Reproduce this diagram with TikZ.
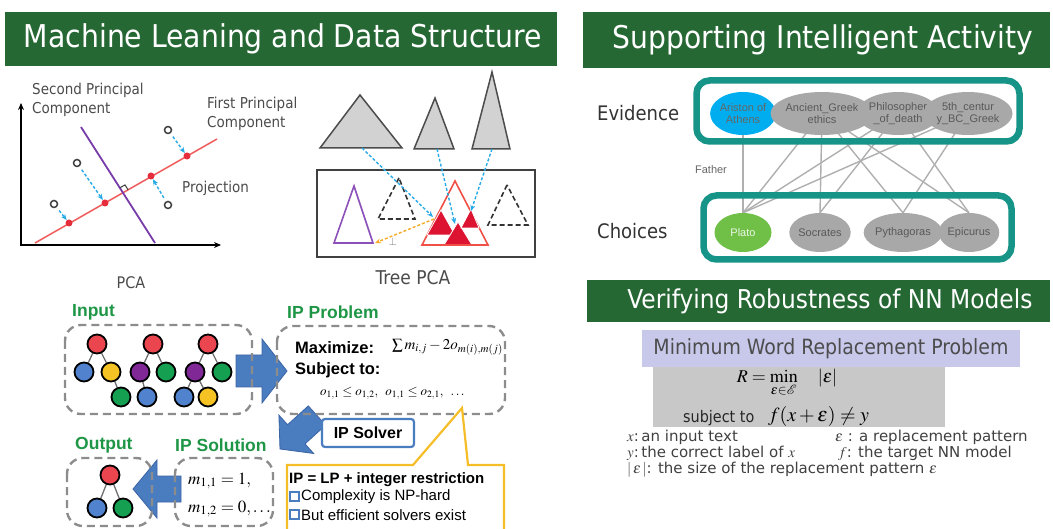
\documentclass[tikz,border=0pt]{standalone}
\usepackage{mathptmx}
\usepackage[no-math]{fontspec}
\setmainfont{Liberation Sans}
\newfontfamily\tah{DejaVu Sans Condensed}
\newfontfamily\verd{DejaVu Sans}
\usepackage{graphicx}
\usetikzlibrary{arrows.meta,shapes.geometric,calc,backgrounds}

\definecolor{titlegreen}{RGB}{38,104,52}
\definecolor{lblgreen}{RGB}{30,150,70}
\definecolor{txtgray}{RGB}{75,75,75}
\definecolor{pcared}{RGB}{240,90,90}
\definecolor{pcapurple}{RGB}{120,60,170}
\definecolor{projblue}{RGB}{40,170,230}
\definecolor{dotred}{RGB}{230,45,60}
\definecolor{trigray}{RGB}{210,210,210}
\definecolor{trivio}{RGB}{140,80,185}
\definecolor{trired}{RGB}{240,80,70}
\definecolor{trifill}{RGB}{220,20,50}
\definecolor{orangearr}{RGB}{245,170,40}
\definecolor{dashgray}{RGB}{140,140,140}
\definecolor{nred}{RGB}{235,70,80}
\definecolor{nblue}{RGB}{80,130,205}
\definecolor{nyellow}{RGB}{245,195,35}
\definecolor{ngreen}{RGB}{20,160,80}
\definecolor{npurple}{RGB}{128,40,150}
\definecolor{treeedge}{RGB}{110,110,110}
\definecolor{arrblue}{RGB}{74,124,192}
\definecolor{arrblueedge}{RGB}{60,100,165}
\definecolor{calloutgold}{RGB}{245,190,40}
\definecolor{teal}{RGB}{22,148,136}
\definecolor{evcyan}{RGB}{0,174,239}
\definecolor{chgreen}{RGB}{112,192,72}
\definecolor{nodegray}{RGB}{168,168,168}
\definecolor{linkgray}{RGB}{175,175,175}
\definecolor{lavender}{RGB}{200,200,235}
\definecolor{boxgray}{RGB}{200,200,200}

\newcommand{\fz}[2]{\fontsize{#1}{#2}\selectfont}

\begin{document}
\begin{tikzpicture}[x=1pt,y=-1pt,
  titlebar/.style={fill=titlegreen},
  titletext/.style={text=white, inner sep=0pt},
  pcalabel/.style={text=txtgray, font=\tah\fz{15}{19}, align=left, inner sep=0pt},
  axis/.style={line width=1.8pt, black, {Stealth[length=7pt,width=6pt]}-{Stealth[length=7pt,width=6pt]}},
  datapt/.style={circle, draw=black!75, fill=white, line width=1.5pt, minimum size=7pt, inner sep=0pt},
  projpt/.style={circle, fill=dotred, minimum size=7pt, inner sep=0pt},
  projarrow/.style={projblue, dashed, dash pattern=on 3pt off 2pt, line width=1.4pt, -{Stealth[length=6pt,width=5pt]}, shorten <=4pt},
  graytri/.style={fill=trigray, draw=black!70, line width=1.5pt, line join=miter},
  dashtri/.style={draw=black!80, line width=1.6pt, dash pattern=on 5pt off 3pt},
  treearrow/.style={projblue, line width=1.4pt, dash pattern=on 3pt off 2pt, -{Stealth[length=6pt,width=5pt]}},
  greenlbl/.style={text=lblgreen, font=\bfseries\fz{17.5}{20}, inner sep=0pt, anchor=west},
  dashbox/.style={draw=dashgray, line width=2.4pt, dash pattern=on 8pt off 5pt, rounded corners=16pt},
  tn/.style={circle, draw=black, line width=1.8pt, minimum size=19pt, inner sep=0pt},
  tedge/.style={draw=treeedge, line width=1.3pt},
  bigarrow/.style={fill=arrblue, draw=arrblueedge, line width=0.8pt, line join=miter},
  boldtxt/.style={font=\bfseries\fz{16.5}{20}, inner sep=0pt, anchor=west},
  callouttxt/.style={font=\fz{15}{18}, inner sep=0pt, anchor=west},
  bluesq/.style={draw=arrblue, line width=1.3pt, fill=white},
  tealbox/.style={draw=teal, line width=6.5pt, rounded corners=13pt},
  evnode/.style={ellipse, minimum width=57pt, minimum height=43pt, inner sep=0pt, align=center, font=\fz{11}{12}, text=black!65},
  chnode/.style={ellipse, minimum width=57pt, minimum height=39pt, inner sep=0pt, align=center, font=\fz{11}{12}, text=black!65},
  link/.style={draw=linkgray, line width=1.4pt},
  sidelbl/.style={font=\tah\fz{20}{24}, text=black!80, inner sep=0pt, anchor=west},
  legend/.style={font=\verd\fz{15}{16}, text=black!75, inner sep=0pt, anchor=west},
]
\useasboundingbox (0,0) rectangle (1053,529);

% ---------- title bars ----------
\fill[titlebar] (5,12) rectangle (557,66);
\node[titletext] (t1) at (283,39) {\resizebox{518pt}{!}{\tah Machine Leaning and Data Structure}};
\fill[titlebar] (583,12) rectangle (1050,68);
\node[titletext] (t2) at (823,40) {\resizebox{420pt}{!}{\tah Supporting Intelligent Activity}};
\fill[titlebar] (587,280) rectangle (1050,322);
\node[titletext] (t3) at (830,301) {\resizebox{405pt}{!}{\tah Verifying Robustness of NN Models}};

% ---------- PCA ----------
\draw[axis] (21,103) -- (21,245) -- (221,245);
\draw[pcared, line width=1.5pt] (35,243) -- (217,139);
\draw[pcapurple, line width=1.8pt] (81,127) -- (155,243);
\draw[black!75, line width=1pt] (128.2,190) -- (125,184.9) -- (119.8,187.9);
\node[datapt] (p1) at (168,130) {};
\node[datapt] (p2) at (77,163) {};
\node[datapt] (p3) at (54,204) {};
\node[datapt] (p4) at (168,205) {};
\node[projpt] (q1) at (187,156) {};
\node[projpt] (q2) at (105,203) {};
\node[projpt] (q3) at (69,223) {};
\node[projpt] (q4) at (151,176) {};
\draw[projarrow] (p1) -- (q1);
\draw[projarrow] (p2) -- (q2);
\draw[projarrow] (p3) -- (q3);
\draw[projarrow] (p4) -- (q4);
\node[pcalabel, anchor=west] (lsec) at (32,100) {Second Principal\\Component};
\node[pcalabel, anchor=west] (lfirst) at (207,114) {First Principal\\Component};
\node[pcalabel, anchor=west, font=\tah\fz{15}{18}] (lproj) at (182,188) {Projection};
\node[pcalabel, font=\tah\fz{16}{18}] (lpca) at (131,283) {PCA};

% ---------- Tree PCA ----------
\draw[graytri] (360,95) -- (320,148) -- (402,148) -- cycle;
\draw[graytri] (435,98) -- (414,149) -- (454,149) -- cycle;
\draw[graytri] (492,72) -- (472,149) -- (510,149) -- cycle;
\draw[black!75, line width=1.8pt] (317,170) rectangle (535,257);
\draw[trivio, line width=1.6pt] (354,186) -- (334,243) -- (373,243) -- cycle;
\draw[dashtri] (399,178) -- (378,219) -- (415,219) -- cycle;
\draw[dashtri] (507,185) -- (488,225) -- (528,225) -- cycle;
\draw[trired, line width=1.6pt] (455,181) -- (422,245) -- (488,245) -- cycle;
\filldraw[fill=trifill, draw=white, line width=0.8pt] (441,210) -- (427,235) -- (455,235) -- cycle;
\filldraw[fill=trifill, draw=white, line width=0.8pt] (458,222) -- (444,245) -- (472,245) -- cycle;
\filldraw[fill=trifill, draw=white, line width=0.8pt] (471,209) -- (461,228) -- (479,228) -- cycle;
\draw[trired, line width=1.6pt] (422,245) -- (488,245);
\coordinate (g1) at (362,148);
\coordinate (g2) at (437,149);
\coordinate (g3) at (492,149);
\coordinate (r1) at (433,217);
\coordinate (r2) at (455,224);
\coordinate (r3) at (471,211);
\draw[treearrow] (g1) -- (r1);
\draw[treearrow] (g2) -- (r2);
\draw[treearrow] (g3) -- (r3);
\coordinate (o1) at (434,219);
\coordinate (o2) at (375,243);
\draw[orangearr, line width=1.4pt, dash pattern=on 3pt off 2pt, -{Stealth[length=6pt,width=5pt]}] (o1) -- (o2);
\node[text=black!55, inner sep=0pt, font=\fz{11}{12}] (perp) at (393,242) {$\perp$};
\node[pcalabel, font=\tah\fz{19}{22}] (ltree) at (413,278) {Tree PCA};

% ---------- IP pipeline: block arrows ----------
\filldraw[bigarrow] (236,355) -- (262,355) -- (262,339) -- (287,371) -- (262,403) -- (262,387) -- (236,387) -- cycle;
\filldraw[bigarrow] (280,449) -- (313.7,453.5) -- (305.0,443.9) -- (325.7,425.1) -- (308.3,405.9) -- (287.6,424.7) -- (278.9,415.1) -- cycle;
\filldraw[bigarrow] (133,489) -- (157,460) -- (157,476) -- (181,476) -- (181,502) -- (157,502) -- (157,518) -- cycle;

% Input trees
\node[greenlbl] (linput) at (72,312) {Input};
\draw[dashbox] (65,325) rectangle (252,414);
\node[tn, fill=nred] (a1) at (97,344) {};
\node[tn, fill=nblue] (a2) at (84,372) {};
\node[tn, fill=nyellow] (a3) at (111,372) {};
\node[tn, fill=ngreen] (a4) at (121,397) {};
\node[tn, fill=nred] (b1) at (153,344) {};
\node[tn, fill=npurple] (b2) at (140,372) {};
\node[tn, fill=ngreen] (b3) at (166,372) {};
\node[tn, fill=nblue] (b4) at (147,397) {};
\node[tn, fill=nred] (c1) at (208,344) {};
\node[tn, fill=npurple] (c2) at (195,372) {};
\node[tn, fill=ngreen] (c3) at (222,372) {};
\node[tn, fill=nblue] (c4) at (184,397) {};
\node[tn, fill=nyellow] (c5) at (208,397) {};
\begin{scope}[on background layer]
\draw[tedge] (a1) -- (a2); \draw[tedge] (a1) -- (a3); \draw[tedge] (a3) -- (a4);
\draw[tedge] (b1) -- (b2); \draw[tedge] (b1) -- (b3); \draw[tedge] (b2) -- (b4);
\draw[tedge] (c1) -- (c2); \draw[tedge] (c1) -- (c3); \draw[tedge] (c2) -- (c4); \draw[tedge] (c2) -- (c5);
\end{scope}

% IP problem
\node[greenlbl] (lprob) at (287,312) {IP Problem};
\draw[dashbox] (277,326) rectangle (505,414);
\node[boldtxt] (lmax) at (295,348) {Maximize:};
\node[boldtxt] (lsub) at (295,370) {Subject to:};
\node[inner sep=0pt, anchor=west, font=\fz{15}{17}] (fobj) at (392,347) {$\sum m_{i,j} - 2o_{m(i),m(j)}$};
\node[inner sep=0pt, anchor=west, font=\fz{13}{15}] (fcon) at (320,393) {$o_{1,1}\le o_{1,2},\;\; o_{1,1}\le o_{2,1},\;\;\dots$};

% IP solver
\node[draw=arrblue, line width=2.2pt, fill=white, rounded corners=3pt, minimum width=92pt, minimum height=28pt, inner sep=0pt, font=\bfseries\fz{16}{18}] (solver) at (368,433) {IP Solver};

% callout
\filldraw[fill=white, draw=calloutgold, line width=2.2pt, line join=miter] (287,535) -- (287,465) -- (413,465) -- (462,408) -- (468,465) -- (504,465) -- (504,535);
\node[callouttxt, font=\bfseries\fz{15}{18}] (cl1) at (289,480) {IP = LP + integer restriction};
\draw[bluesq] (290,492) rectangle (299,501);
\node[callouttxt] (cl2) at (301,497) {Complexity is NP-hard};
\draw[bluesq] (290,510) rectangle (299,519);
\node[callouttxt] (cl3) at (301,515) {But efficient solvers exist};

% output & solution
\node[greenlbl] (lout) at (75,445) {Output};
\node[greenlbl] (lsol) at (175,445) {IP Solution};
\draw[dashbox] (67,458) rectangle (152,526);
\draw[dashbox] (175,458) rectangle (273,526);
\node[tn, fill=nred] (d1) at (110,475) {};
\node[tn, fill=nblue] (d2) at (97,508) {};
\node[tn, fill=ngreen] (d3) at (123,508) {};
\begin{scope}[on background layer]
\draw[tedge] (d1) -- (d2); \draw[tedge] (d1) -- (d3);
\end{scope}
\node[inner sep=0pt, anchor=west, font=\fz{17}{19}] (m1) at (188,481) {$m_{1,1}=1,$};
\node[inner sep=0pt, anchor=west, font=\fz{17}{19}] (m2) at (188,509) {$m_{1,2}=0,\dots$};

% ---------- evidence / choices graph ----------
\node[sidelbl] (lev) at (597,113) {Evidence};
\node[sidelbl] (lch) at (597,231) {Choices};
\draw[tealbox] (696.5,80.5) rectangle (1019.5,141.5);
\draw[tealbox] (703.5,195.5) rectangle (1011.5,259.5);
\node[evnode, fill=evcyan, text=black!60] (ev1) at (743,113.5) {Ariston of\\Athens};
\node[evnode, fill=nodegray] (ev2) at (822,113.5) {Ancient\_Greek\\ethics};
\node[evnode, fill=nodegray] (ev3) at (898,113.5) {Philosopher\\\_of\_death};
\node[evnode, fill=nodegray] (ev4) at (968,113.5) {5th\_centur\\y\_BC\_Greek};
\node[chnode, fill=chgreen, text=white!85!chgreen] (ch1) at (743,232.5) {Plato};
\node[chnode, fill=nodegray] (ch2) at (820,232.5) {Socrates};
\node[chnode, fill=nodegray] (ch3) at (903,232.5) {Pythagoras};
\node[chnode, fill=nodegray] (ch4) at (969,232.5) {Epicurus};
\begin{scope}[on background layer]
\draw[link] (ev1.center) -- (ch1.north);
\draw[link] (ev2.center) -- (ch1.north);
\draw[link] (ev3.center) -- (ch1.north);
\draw[link] (ev4.center) -- (ch1.north);
\draw[link] (ev2.center) -- (ch2.north);
\draw[link] (ev3.center) -- (ch2.north);
\draw[link] (ev2.center) -- (ch3.north);
\draw[link] (ev4.center) -- (ch3.north);
\draw[link] (ev2.center) -- (ch4.north);
\draw[link] (ev3.center) -- (ch4.north);
\end{scope}
\node[inner sep=0pt, font=\fz{11}{12}, text=black!60] (lfather) at (711,170) {Father};

% ---------- robustness ----------
\fill[lavender] (642,330) rectangle (1020,367);
\node[inner sep=0pt, text=black!70] (lmin) at (831,349) {\resizebox{355pt}{!}{\tah Minimum Word Replacement Problem}};
\fill[boxgray] (653,367) rectangle (945,427);
\node[inner sep=0pt, font=\fz{18}{20}] (fR) at (787,383) {$R = \min\limits_{\epsilon\in\mathcal{E}}\quad |\epsilon|$};
\node[inner sep=0pt, anchor=west, font=\tah\fz{16}{18}, text=black!85] (lsubj) at (683,418) {subject to};
\node[inner sep=0pt, anchor=west, font=\fz{20}{22}] (fcond) at (768,416) {$f(x+\epsilon)\neq y$};
\node[legend] (g1t) at (627,437) {$x$:\,an input text};
\node[legend] (g2t) at (835,437) {$\varepsilon$ : a replacement pattern};
\node[legend] (g3t) at (627,453) {$y$:\,the correct label of $x$};
\node[legend] (g4t) at (838,453) {$f$: the target NN model};
\node[legend] (g5t) at (627,469.5) {$|\,\varepsilon\,|$: the size of the replacement pattern $\varepsilon$};
\end{tikzpicture}
\end{document}
